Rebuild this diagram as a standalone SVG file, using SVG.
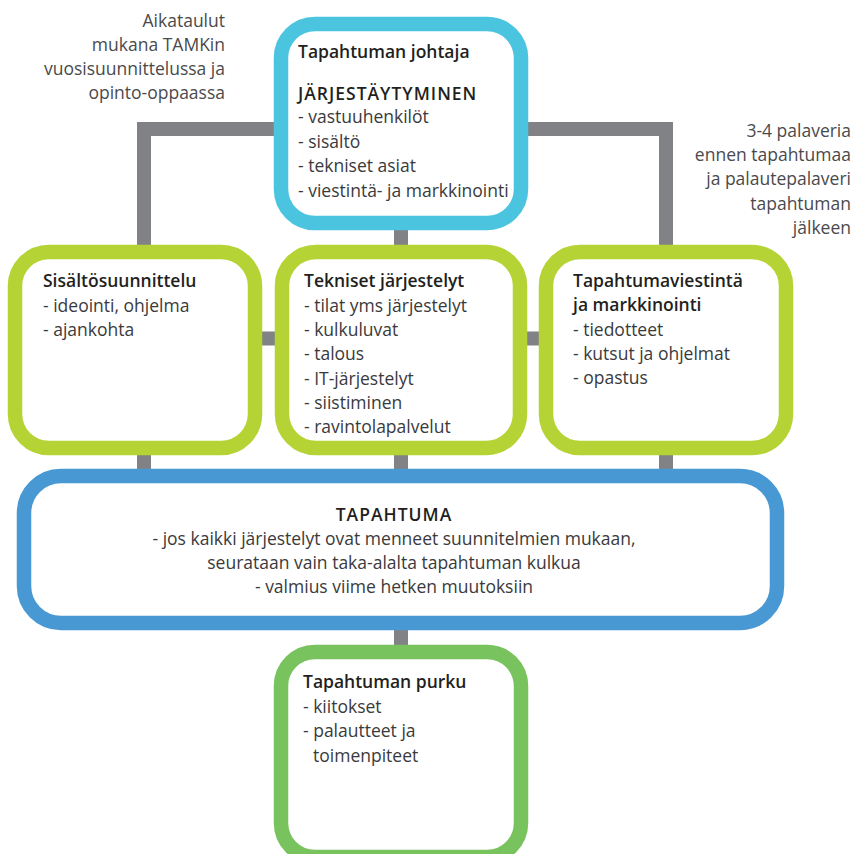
<svg xmlns="http://www.w3.org/2000/svg" width="856" height="854" viewBox="0 0 856 854">
<style>
text{font-family:"Open Sans","Noto Sans","Liberation Sans",sans-serif;font-size:17.5px;fill:#3a3a3c}
.h{font-weight:600;fill:#231f20}
.caps{letter-spacing:1px}
.note{fill:#4a4a4c}
.c{text-anchor:middle}
.r{text-anchor:end}
.box{fill:#fff;stroke-width:14.5}
.cy{stroke:#4bc4df}
.gr{stroke:#b5d335}
.bl{stroke:#4898d3}
.gn{stroke:#78c35e}
#connectors path{fill:none;stroke:#818285;stroke-width:14;stroke-linejoin:miter}
</style>
<rect width="856" height="854" fill="#fff"/>
<g id="connectors">
<path d="M281 129H144V252"/>
<path d="M521 129H666V252"/>
<path d="M401 223V252"/>
<path d="M255 338.5H282"/>
<path d="M520 338.5H546"/>
<path d="M144 448V476"/>
<path d="M401 448V476"/>
<path d="M666 448V476"/>
<path d="M401 623V652"/>
</g>
<g id="note-left">
<text class="note r" x="225" y="27">Aikataulut</text>
<text class="note r" x="225" y="51">mukana TAMKin</text>
<text class="note r" x="225" y="75">vuosisuunnittelussa ja</text>
<text class="note r" x="225" y="99">opinto-oppaassa</text>
</g>
<g id="note-right">
<text class="note r" x="851" y="137">3-4 palaveria</text>
<text class="note r" x="851" y="161">ennen tapahtumaa</text>
<text class="note r" x="851" y="185">ja palautepalaveri</text>
<text class="note r" x="851" y="210">tapahtuman</text>
<text class="note r" x="851" y="234">jälkeen</text>
</g>
<g id="johtaja">
<rect class="box cy" x="281" y="24" width="240" height="199" rx="34"/>
<text class="h" x="298" y="58">Tapahtuman johtaja</text>
<text class="h caps" x="298" y="100">JÄRJESTÄYTYMINEN</text>
<text x="298" y="123">- vastuuhenkilöt</text>
<text x="298" y="148">- sisältö</text>
<text x="298" y="172">- tekniset asiat</text>
<text x="298" y="197">- viestintä- ja markkinointi</text>
</g>
<g id="sisalto">
<rect class="box gr" x="15" y="252" width="240" height="196" rx="34"/>
<text class="h" x="43" y="287">Sisältösuunnittelu</text>
<text x="43" y="312">- ideointi, ohjelma</text>
<text x="43" y="336">- ajankohta</text>
</g>
<g id="tekniset">
<rect class="box gr" x="282" y="252" width="238" height="196" rx="34"/>
<text class="h" x="304" y="287">Tekniset järjestelyt</text>
<text x="304" y="311.5">- tilat yms järjestelyt</text>
<text x="304" y="336">- kulkuluvat</text>
<text x="304" y="360">- talous</text>
<text x="304" y="384.5">- IT-järjestelyt</text>
<text x="304" y="409">- siistiminen</text>
<text x="304" y="433">- ravintolapalvelut</text>
</g>
<g id="viestinta">
<rect class="box gr" x="546" y="252" width="240" height="196" rx="34"/>
<text class="h" x="573" y="287">Tapahtumaviestintä</text>
<text class="h" x="573" y="311">ja markkinointi</text>
<text x="573" y="336">- tiedotteet</text>
<text x="573" y="360">- kutsut ja ohjelmat</text>
<text x="573" y="384">- opastus</text>
</g>
<g id="tapahtuma">
<rect class="box bl" x="24" y="476" width="753" height="147" rx="37"/>
<text class="h caps c" x="394" y="521">TAPAHTUMA</text>
<text class="c" x="394" y="545">- jos kaikki järjestelyt ovat menneet suunnitelmien mukaan,</text>
<text class="c" x="394" y="569">seurataan vain taka-alalta tapahtuman kulkua</text>
<text class="c" x="394" y="593">- valmius viime hetken muutoksiin</text>
</g>
<g id="purku">
<rect class="box gn" x="281" y="652" width="240" height="205" rx="34"/>
<text class="h" x="303" y="688">Tapahtuman purku</text>
<text x="303" y="713">- kiitokset</text>
<text x="303" y="737">- palautteet ja</text>
<text x="313" y="762">toimenpiteet</text>
</g>
</svg>
